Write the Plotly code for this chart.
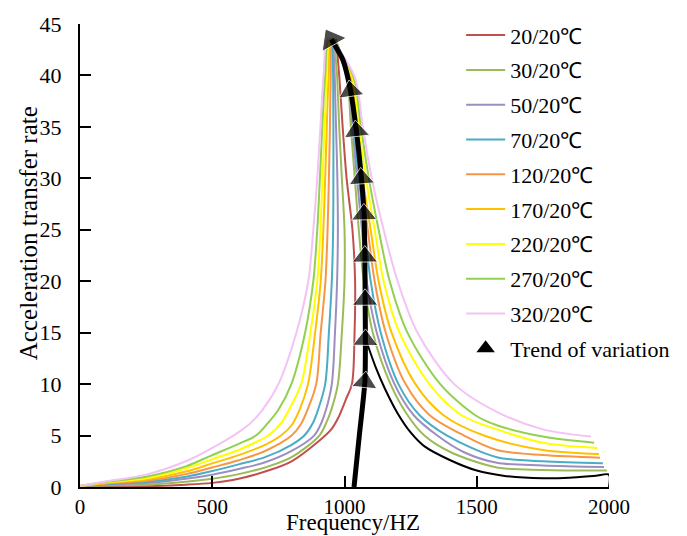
import plotly.graph_objects as go

# ---------------- data ----------------
series_names = ["20/20℃", "30/20℃", "50/20℃", "70/20℃", "120/20℃",
                "170/20℃", "220/20℃", "270/20℃", "320/20℃"]

f_20 = [0, 100, 250, 400, 500, 600, 700, 800, 900, 950, 976, 1005, 1028, 1038, 1040, 1030, 1008, 993, 980, 968]
v_20 = [0.1, 0.05, 0.07, 0.22, 0.4, 0.8, 1.5, 2.5, 4.4, 5.6, 6.7, 8.5, 10, 15, 20, 25, 30, 35, 40, 43.5]

f_30 = [0, 100, 250, 400, 500, 600, 700, 800, 905, 932, 950, 975, 990, 1000, 1000, 990, 980, 972, 964,
        1009, 1024, 1039, 1054, 1073, 1107, 1174, 1238, 1302, 1400, 1576, 1750, 1992]
v_30 = [0.1, 0.15, 0.22, 0.5, 0.8, 1.25, 1.9, 2.9, 5, 6.3, 7.5, 10, 15, 20, 25, 30, 35, 40, 43.5,
        40, 35, 30, 25, 20, 15, 10, 7, 5, 3.4, 1.9, 1.65, 1.6]

f_50 = [0, 100, 250, 400, 500, 600, 700, 800, 885, 912, 930, 952, 964, 972, 975, 973, 968, 963, 961,
        1013, 1030, 1047, 1066, 1084, 1122, 1189, 1261, 1351, 1450, 1576, 1750, 1981]
v_50 = [0.1, 0.25, 0.38, 0.8, 1.2, 1.75, 2.4, 3.5, 5, 6.2, 7.5, 10, 15, 20, 25, 30, 35, 40, 43.5,
        40, 35, 30, 25, 20, 15, 10, 7, 5, 3.4, 2.35, 2.1, 1.95]

f_70 = [0, 100, 250, 400, 500, 600, 700, 800, 848, 880, 900, 927, 941, 952, 957, 958, 958, 957, 957,
        1017, 1036, 1054, 1077, 1099, 1137, 1204, 1283, 1388, 1576, 1750, 1977]
v_70 = [0.1, 0.3, 0.5, 1.0, 1.55, 2.2, 2.9, 4.1, 5, 6.2, 7.5, 10, 15, 20, 25, 30, 35, 40, 43.5,
        40, 35, 30, 25, 20, 15, 10, 7, 5, 2.9, 2.5, 2.3]

f_120 = [0, 100, 250, 400, 500, 600, 700, 800, 835, 860, 893, 910, 928, 936, 941, 945, 948, 953,
         1021, 1041, 1062, 1088, 1114, 1156, 1231, 1321, 1452, 1576, 1750, 1966]
v_120 = [0.1, 0.35, 0.6, 1.25, 1.9, 2.6, 3.5, 5, 6.1, 7.5, 10, 15, 20, 25, 30, 35, 40, 43.5,
         40, 35, 30, 25, 20, 15, 10, 7, 5, 3.6, 3.1, 2.85]

f_170 = [0, 100, 250, 400, 500, 600, 700, 760, 800, 830, 862, 889, 910, 920, 927, 933, 940, 949,
         1024, 1047, 1069, 1099, 1129, 1178, 1268, 1373, 1527, 1750, 1962]
v_170 = [0.1, 0.4, 0.72, 1.5, 2.3, 3.1, 4.1, 5, 6.0, 7.5, 10, 15, 20, 25, 30, 35, 40, 43.5,
         40, 35, 30, 25, 20, 15, 10, 7, 5, 3.6, 3.2]

f_220 = [0, 100, 250, 400, 500, 600, 660, 712, 760, 790, 836, 871, 897, 909, 917, 925, 933, 946,
         1028, 1054, 1081, 1114, 1148, 1208, 1321, 1441, 1576, 1750, 1955]
v_220 = [0.1, 0.45, 0.85, 1.8, 2.7, 3.6, 4.3, 5, 6.2, 7.5, 10, 15, 20, 25, 30, 35, 40, 43.5,
         40, 35, 30, 25, 20, 15, 10, 7, 5.6, 4.3, 3.8]

f_270 = [0, 100, 250, 400, 500, 600, 665, 710, 750, 799, 851, 882, 897, 907, 916, 927, 942,
         1032, 1062, 1092, 1129, 1171, 1238, 1362, 1493, 1576, 1750, 1944]
v_270 = [0.1, 0.5, 1.0, 2.0, 3.1, 4.2, 5.0, 6.2, 7.5, 10, 15, 20, 25, 30, 35, 40, 43.5,
         40, 35, 30, 25, 20, 15, 10, 7, 6.0, 4.9, 4.3]

f_320 = [0, 100, 250, 400, 500, 580, 640, 690, 750, 818, 863, 882, 897, 909, 921, 938,
         1036, 1069, 1103, 1148, 1201, 1276, 1415, 1576, 1750, 1932]
v_320 = [0.1, 0.55, 1.2, 2.5, 3.8, 5, 6.1, 7.5, 10, 15, 20, 25, 30, 35, 40, 43.5,
         40, 35, 30, 25, 20, 15, 10, 7.3, 5.6, 4.9]

# black right-hand curve (no legend entry)
f_black = [1085, 1120, 1152, 1200, 1250, 1300, 1400, 1500, 1600, 1750, 1850, 1950, 2000, 2000]
v_black = [14, 11.5, 9.6, 7.2, 5.3, 4.0, 2.6, 1.6, 1.1, 0.85, 0.9, 1.1, 1.2, 0]

# trend-of-variation arrow path
trend_f = [1036, 1056, 1077, 1079, 1078, 1077, 1074, 1064, 1045, 1023, 994, 950]
trend_v = [0, 5, 10.2, 14.3, 18.2, 22.4, 26.5, 30, 34.6, 38.5, 41.5, 43.5]
trend_name = "Trend of variation"

x_ticks = [0, 500, 1000, 1500, 2000]
y_ticks = [0, 5, 10, 15, 20, 25, 30, 35, 40, 45]

# ---------------- styling ----------------
colors = ["#C0504D", "#9BBB59", "#9C8FC0", "#4BACC6", "#F79646",
          "#FFC000", "#FFFF00", "#92D050", "#F4C2F4"]
FONT = "Liberation Serif, Times New Roman, serif"

xs = [f_20, f_30, f_50, f_70, f_120, f_170, f_220, f_270, f_320]
ys = [v_20, v_30, v_50, v_70, v_120, v_170, v_220, v_270, v_320]

fig = go.Figure()
for name, c, x, y in zip(series_names, colors, xs, ys):
    fig.add_trace(go.Scatter(x=x, y=y, mode="lines", name=name, legendgroup=name,
                             line=dict(color=c, width=2, shape="spline", smoothing=0.9)))

fig.add_trace(go.Scatter(x=f_black, y=v_black, mode="lines", showlegend=False,
                         line=dict(color="black", width=2, shape="spline", smoothing=0.8)))

head_sizes = [0, 0] + [22] * 8 + [0, 24]
fig.add_trace(go.Scatter(x=trend_f, y=trend_v, mode="lines+markers", showlegend=False,
                         line=dict(color="black", width=5, shape="spline", smoothing=0.6),
                         marker=dict(symbol="triangle-up", angleref="previous", color="black",
                                     size=head_sizes)))

fig.add_trace(go.Scatter(x=[None], y=[None], mode="markers", name=trend_name,
                         legendgroup=trend_name,
                         marker=dict(symbol="triangle-up", color="black", size=16)))

axis_common = dict(showline=True, linecolor="black", linewidth=2, ticks="inside",
                   ticklen=11, tickwidth=2, tickcolor="black", showgrid=False,
                   zeroline=False, tickfont=dict(family=FONT, size=21, color="black"))

fig.update_xaxes(range=[0, 2000], tickvals=x_ticks, ticklabelstandoff=0, **axis_common)
fig.update_yaxes(range=[0, 45], tickvals=y_ticks, ticklabelstandoff=12,
                 **{**axis_common, "tickfont": dict(family=FONT, size=22, color="black")})

fig.update_layout(
    width=687, height=536,
    margin=dict(l=80, r=74, t=24, b=49),
    plot_bgcolor="white", paper_bgcolor="white",
    font=dict(family=FONT, size=22, color="black"),
    legend=dict(x=0.7205, y=1.021, xanchor="left", yanchor="top",
                font=dict(family=FONT, size=22, color="black"),
                tracegroupgap=3.2, bgcolor="rgba(0,0,0,0)", itemwidth=39,
                maxheight=1),
    annotations=[
        dict(text="Frequency/HZ", x=0.516, y=-0.077, xref="paper", yref="paper",
             showarrow=False, xanchor="center", yanchor="middle",
             font=dict(family=FONT, size=23, color="black")),
        dict(text="Acceleration transfer rate", x=-0.0976, y=0.549, xref="paper", yref="paper",
             showarrow=False, xanchor="center", yanchor="middle", textangle=-90,
             font=dict(family=FONT, size=25, color="black")),
    ],
)

fig.write_html("out.html", config={"displayModeBar": False},
               post_script="document.body.style.margin='0px';")
